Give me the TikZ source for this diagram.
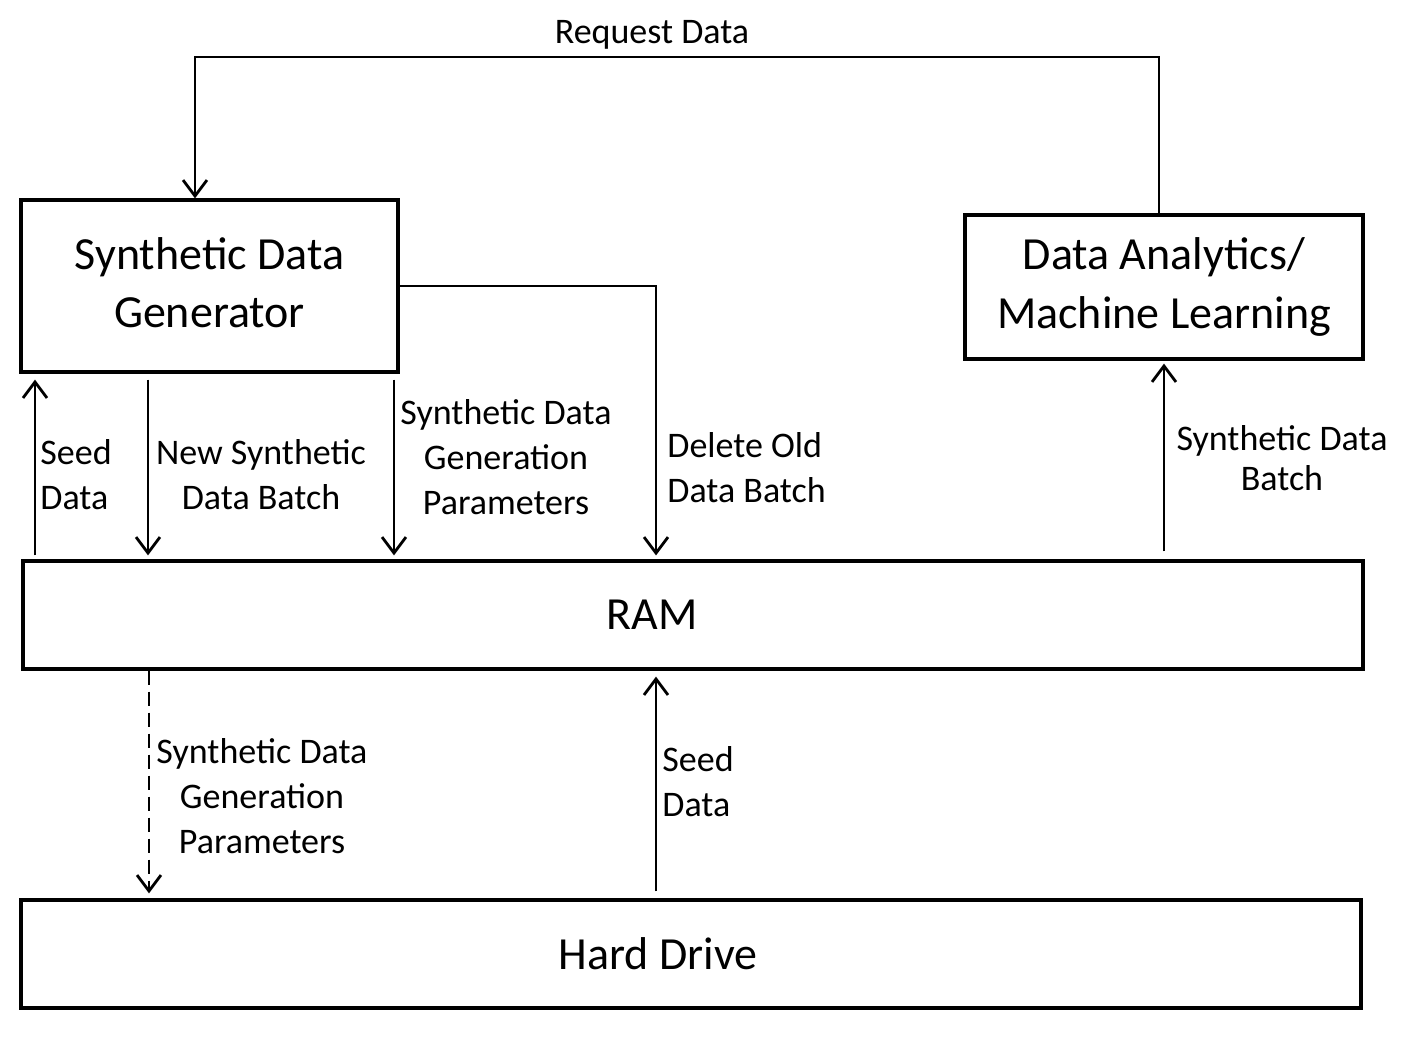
\documentclass[tikz,border=0pt]{standalone}
\usepackage{fontspec}
\setmainfont{Carlito}
\usetikzlibrary{arrows.meta, positioning, calc}
\tikzset{
  block/.style={rectangle, draw=black, line width=1.6pt, align=center,
    font=\fontsize{23}{29.5}\selectfont, inner sep=0pt},
  arr/.style={-{Straight Barb[length=8pt,width=12pt,line width=1.4pt]},
    line width=1.4pt, color=black},
  lbl/.style={font=\fontsize{18}{22.5}\selectfont, inner sep=0pt},
}

\begin{document}
\begin{tikzpicture}[x=0.5pt,y=-0.5pt]
\useasboundingbox (0,0) rectangle (1404,1040);

% boxes
\node[block, minimum width=188.5pt, minimum height=86pt] (gen) at (209.5,286)
  {\raisebox{3.25pt}{\shortstack{Synthetic Data\\[7.5pt]Generator}}};
\node[block, minimum width=199pt, minimum height=72pt] (dam) at (1164,287)
  {Data Analytics/\\Machine Learning};
\node[block, minimum width=670pt, minimum height=54pt] (ram) at (693,615)
  {\hspace*{-41pt}RAM};
\node[block, minimum width=670pt, minimum height=54pt] (hdd) at (691,954)
  {\hspace*{-33pt}Hard Drive};

% x positions of the vertical connectors
\coordinate (xa) at (35,0);
\coordinate (xb) at (148,0);
\coordinate (xc) at (394,0);
\coordinate (xd) at (656,0);
\coordinate (xe) at (1164,0);
\coordinate (xf) at (149,0);
\coordinate (top) at (195,57);

% request loop
\draw[arr] ([xshift=-2.5pt]dam.north) |- (top) -| (gen.north -| top);
\node[lbl] (lReq) at (652,35) {Request Data};

% generator <-> RAM
\draw[arr, shorten <=2pt, shorten >=3pt] (xa |- ram.north) -- (xa |- gen.south);
\node[lbl, anchor=west, align=left] (lSeedA) at (40,475) {Seed\\Data};

\draw[arr, shorten <=3pt, shorten >=2pt] (xb |- gen.south) -- (xb |- ram.north);
\node[lbl, align=center] (lNew) at (261,475) {New Synthetic\\Data Batch};

\draw[arr, shorten <=3pt, shorten >=2pt] (xc |- gen.south) -- (xc |- ram.north);
\node[lbl, align=center] (lPar) at (506,457) {Synthetic Data\\Generation\\Parameters};

\draw[arr, shorten >=2pt] (gen.east) -| (xd |- ram.north);
\node[lbl, anchor=west, align=left] (lDel) at (667,468) {Delete Old\\Data Batch};

% RAM -> analytics
\draw[arr, shorten <=4pt, shorten >=1.5pt] (xe |- ram.north) -- (dam.south);
\node[lbl, align=center] (lBat) at (1282,458) {Synthetic Data\\[-2.5pt]Batch};

% RAM <-> hard drive
\draw[arr, dash pattern=on 7pt off 3.5pt, shorten >=2.5pt] (xf |- ram.south) -- (xf |- hdd.north);
\node[lbl, align=center] (lPar2) at (262,796) {Synthetic Data\\Generation\\Parameters};

\draw[arr, shorten <=3.5pt, shorten >=3pt] (xd |- hdd.north) -- (xd |- ram.south);
\node[lbl, anchor=west, align=left] (lSeedB) at (662,782) {Seed\\Data};

\end{tikzpicture}
\end{document}
